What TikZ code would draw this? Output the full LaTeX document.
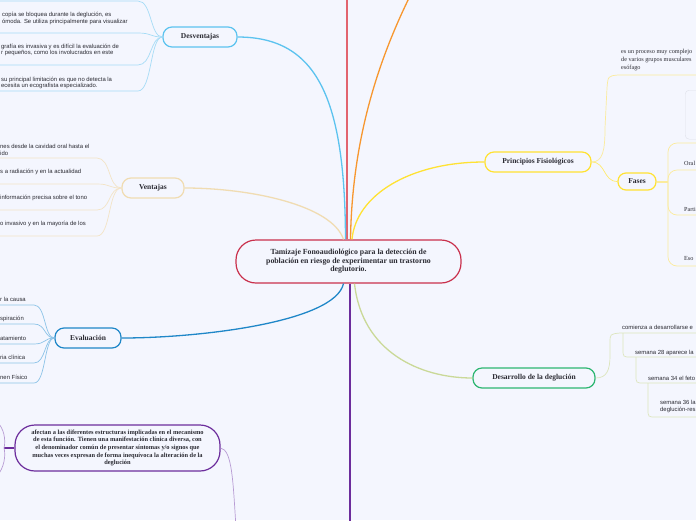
\documentclass[tikz,border=0pt]{standalone}
\usepackage{fontspec}
\setmainfont{Liberation Serif}
\setsansfont{Liberation Sans}
\usetikzlibrary{positioning}

\definecolor{bg}{HTML}{F4F6FE}
\definecolor{ink}{HTML}{2B2B33}
\definecolor{crim}{HTML}{C9304C}
\definecolor{redline}{HTML}{E2646F}
\definecolor{orline}{HTML}{F7972F}
\definecolor{sky}{HTML}{5CC3EF}
\definecolor{skylight}{HTML}{A6DCF6}
\definecolor{wheat}{HTML}{F0DCB2}
\definecolor{wheatlight}{HTML}{F3E4C6}
\definecolor{evablue}{HTML}{1F87C8}
\definecolor{evalight}{HTML}{8CC3E7}
\definecolor{yel}{HTML}{FFE233}
\definecolor{yellight}{HTML}{FBEB9C}
\definecolor{devgreen}{HTML}{2DB671}
\definecolor{olive}{HTML}{CAD998}
\definecolor{olivelight}{HTML}{DCE5BC}
\definecolor{purp}{HTML}{6C2D9C}
\definecolor{lilac}{HTML}{B89CD4}
\definecolor{boxgray}{HTML}{DFE1EA}

\begin{document}
\begin{tikzpicture}[x=1pt,y=-1pt,
    topic/.style={draw, line width=1.2pt, fill=bg, rounded corners=9pt,
        minimum height=20pt, inner sep=2pt, text=ink,
        font=\fontsize{7.5}{9}\selectfont\bfseries},
    leaf/.style={anchor=west, align=left, inner sep=0pt, text=ink,
        font=\sffamily\fontsize{5.9}{6.8}\selectfont},
    seriflf/.style={anchor=west, align=left, inner sep=0pt, text=ink,
        font=\fontsize{6.2}{8}\selectfont},
    branch/.style={line width=1.3pt},
    twig/.style={line width=0.7pt}]

    % Canvas
    \fill[bg] (0,0) rectangle (696,520);
    \useasboundingbox (0,0) rectangle (696,520);
    \clip (0,0) rectangle (696,520);

    % Topics
    \node[topic, draw=crim, minimum width=225pt, minimum height=43pt,
        rounded corners=20pt, align=center,
        font=\fontsize{7.8}{8.6}\selectfont\bfseries]
        (root) at (348.5,261.5)
        {Tamizaje Fonoaudiológico para la detección de\\población en riesgo de experimentar un trastorno\\deglutorio.};
    \node[topic, draw=sky, minimum width=74pt] (desv) at (200,37) {Desventajas};
    \node[topic, draw=wheat, minimum width=62pt] (vent) at (153,188) {Ventajas};
    \node[topic, draw=evablue, minimum width=66pt] (eval) at (88,338) {Evaluación};
    \node[topic, draw=yel, minimum width=106pt] (prin) at (538,162) {Principios Fisiológicos};
    \node[topic, draw=yel, minimum width=38pt, minimum height=17pt,
        rounded corners=8pt] (fases) at (637,181.5) {Fases};
    \node[topic, draw=devgreen, minimum width=122pt] (devd) at (534,378) {Desarrollo de la deglución};
    \node[topic, draw=purp, minimum width=205pt, minimum height=46pt,
        rounded corners=20pt, align=center,
        font=\fontsize{6.4}{7.7}\selectfont\bfseries]
        (afect) at (117.5,448)
        {afectan a las diferentes estructuras implicadas en el mecanismo\\de esta función. Tienen una manifestación clínica diversa, con\\el denominador común de presentar síntomas y/o signos que\\muchas veces expresan de forma inequívoca la alteración de la\\deglución};

    % Free ends off the page
    \coordinate (redend) at (347,-8);
    \coordinate (orend) at (412,-8);
    \coordinate (purend) at (350,528);
    \coordinate (lilend) at (236,528);
    \coordinate (afjoin) at (4,448);
    \coordinate (fj) at (668,181.5);

    % Branches from the root
    \draw[branch, redline] ([xshift=-1.5pt]root.north) -- (redend);
    \draw[branch, orline] ([xshift=2pt]root.north) .. controls (352,140) and (378,60) .. (orend);
    \draw[branch, sky] ([xshift=-3pt]root.north) .. controls (345,100) and (318,37) .. (desv.east);
    \draw[branch, wheat] ([xshift=-5pt]root.north) .. controls (332,205) and (250,188) .. (vent.east);
    \draw[branch, yel] ([xshift=3.5pt]root.north) .. controls (356,195) and (410,162) .. (prin.west);
    \draw[branch, evablue] ([xshift=-5pt]root.south) .. controls (335,322) and (200,338) .. (eval.east);
    \draw[branch, purp] ([xshift=1.5pt]root.south) -- (purend);
    \draw[branch, olive] ([xshift=6pt]root.south) .. controls (362,352) and (420,378) .. (devd.west);

    % Desventajas
    \foreach \y in {1,33,65,91}
        \draw[twig, skylight] (-5,\y) -- (138,\y) .. controls (152,\y) and (150,37) .. (desv.west);
    \node[leaf] (d1) at (2,18.5) {copía se bloquea durante la deglución, es\\ómoda. Se utiliza principalmente para visualizar};
    \node[leaf] (d2) at (1,50) {grafía es invasiva y es difícil la evaluación de\\r pequeños, como los involucrados en este};
    \node[leaf] (d3) at (1,83) {su principal limitación es que no detecta la\\ecesita un ecografista especializado.};

    % Ventajas
    \foreach \y in {158,184,210,236}
        \draw[twig, wheatlight] (-5,\y) -- (97,\y) .. controls (111,\y) and (108,188) .. (vent.west);
    \node[leaf] (v1) at (0,149.5) {nes desde la cavidad oral hasta el\\ido};
    \node[leaf] (v2) at (0,172) {s a radiación y en la actualidad};
    \node[leaf] (v3) at (0,198) {información precisa sobre el tono};
    \node[leaf] (v4) at (0,224) {o invasivo y en la mayoría de los};

    % Evaluación
    \foreach \y in {305,324,344,363,383}
        \draw[twig, evalight] (-5,\y) -- (34,\y) .. controls (46,\y) and (44,338) .. (eval.west);
    \node[leaf] (e1) at (0,299) {r la causa};
    \node[leaf] (e2) at (0,318.5) {spiración};
    \node[leaf] (e3) at (0,338.5) {atamiento};
    \node[leaf] (e4) at (0,357.5) {ria clínica};
    \node[leaf] (e5) at (0,377.5) {nen Físico};

    % Principios Fisiológicos
    \node[seriflf] (p1) at (621,60) {es un proceso muy complejo\\de varios grupos musculares\\esófago};
    \draw[twig, yellight] (prin.east) .. controls (603,162) and (605,150) .. (605,128)
        -- (607,88) .. controls (608,76) .. (618,75) -- (700,75);
    \draw[twig, yel!70!white] (prin.east) .. controls (606,162) and (603,181.5) .. (fases.west);

    % Fases
    \node[draw=boxgray, rounded corners=4pt, minimum width=40pt, minimum height=49pt,
        anchor=north west] (img) at (685,90) {};
    \draw[line width=2pt, yellight] (fases.east) -- (fj);
    \foreach \y in {143,170,215,266}
        \draw[twig, yellight, rounded corners=9pt] (fj) |- (700,\y);
    \node[seriflf] (f1) at (684,163) {Oral};
    \node[seriflf] (f2) at (684,209) {Parti};
    \node[seriflf] (f3) at (684,258) {Eso};

    % Desarrollo de la deglución
    \draw[twig, olivelight] (devd.east) .. controls (607,378) and (610,370) .. (610,355)
        -- (610,343) .. controls (610,334) .. (620,333) -- (700,333);
    \draw[twig, olivelight] (623,333) -- (623,349) .. controls (623,357) .. (631,357) -- (700,357);
    \draw[twig, olivelight] (636,357) -- (636,375) .. controls (636,383) .. (644,383) -- (700,383);
    \draw[twig, olivelight] (648,383) -- (648,409) .. controls (648,417) .. (656,417) -- (700,417);
    \node[leaf] (w1) at (622,327) {comienza a desarrollarse e};
    \node[leaf] (w2) at (635,352.5) {semana 28 aparece la};
    \node[leaf] (w3) at (648,378.5) {semana 34 el feto};
    \node[leaf] (w4) at (660,406.5) {semana 36 la\\deglución-res};

    % Afectan
    \draw[branch, purp] (afect.west) -- (afjoin);
    \draw[twig, lilac] (afjoin) .. controls (6,440) and (4,428) .. (-3,422);
    \draw[twig, lilac] (afjoin) .. controls (6,456) and (4,468) .. (-3,476);
    \draw[twig, lilac] (afect.east) .. controls (232,450) and (233,480) .. (lilend);

\end{tikzpicture}
\end{document}
